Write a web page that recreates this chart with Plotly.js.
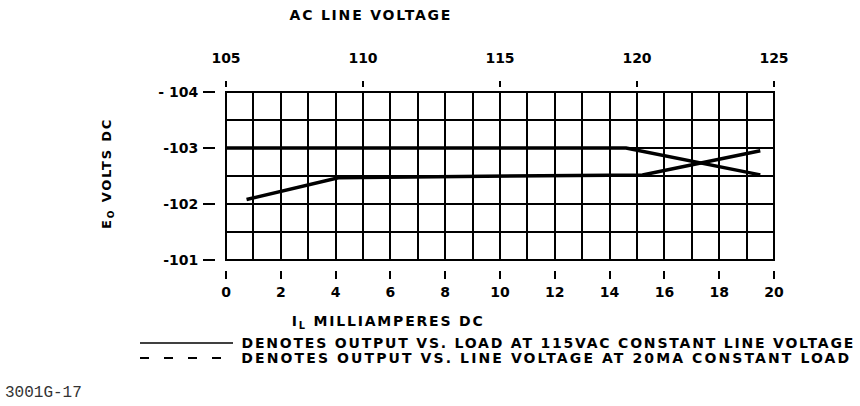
<!DOCTYPE html>
<html>
<head>
<meta charset="utf-8">
<script src="https://cdn.plot.ly/plotly-3.0.1.min.js"></script>
<style>
html,body{margin:0;padding:0;background:#fff;}
#chart{width:860px;height:406px;}
</style>
</head>
<body>
<div id="chart"></div>
<script>
// ---- data ----
// Output vs load at 115 VAC constant line voltage (bottom axis, mA)
const loadMA = [0, 14.6, 19.5];
const loadOut = [-103.0, -103.0, -102.52];
// Output vs line voltage at 20 mA constant load (top axis, VAC)
const lineVolt = [105.75, 109.1, 120.2, 124.5];
const lineOut = [-102.08, -102.47, -102.52, -102.95];

const mATicks = [0, 2, 4, 6, 8, 10, 12, 14, 16, 18, 20];
const voltTicks = [105, 110, 115, 120, 125];
const outTicks = [-104, -103, -102, -101];
const outTickText = ["- 104", "-103", "-102", "-101"];

const titleTop = "AC LINE VOLTAGE";
const titleX = "I<sub>L</sub> MILLIAMPERES DC";
const titleY = "E<sub>O</sub> VOLTS DC";
const legendText = [
  "DENOTES OUTPUT VS. LOAD AT 115VAC CONSTANT LINE VOLTAGE",
  "DENOTES OUTPUT VS. LINE VOLTAGE AT 20MA CONSTANT LOAD"
];
const figId = "3001G-17";

// ---- layout helpers (pixel -> paper) ----
const W = 860, H = 406;
const px = v => v / W;
const py = v => 1 - v / H;

const tickFont = {family: "DejaVu Sans", size: 14, color: "#000", weight: "bold"};
const letterFont = {family: "DejaVu Sans", size: 14, color: "#000", weight: "bold"};
const curve = {color: "#000", width: 3.5};

const traces = [
  // visible curves on the grid axes
  {x: loadMA, y: loadOut, xaxis: "x", yaxis: "y", mode: "lines",
   line: curve, showlegend: false, hoverinfo: "skip"},
  {x: lineVolt, y: lineOut, xaxis: "x2", yaxis: "y", mode: "lines",
   line: curve, showlegend: false, hoverinfo: "skip"},
  // same load curve bound to the offset labelled axes (transparent, so it adds no ink)
  {x: loadMA, y: loadOut, xaxis: "x3", yaxis: "y2", mode: "lines", opacity: 0,
   line: curve, showlegend: false, hoverinfo: "skip"}
];

const layout = {
  width: W, height: H,
  margin: {l: 0, r: 0, t: 0, b: 0, pad: 0},
  paper_bgcolor: "#fff", plot_bgcolor: "#fff",
  showlegend: false,
  // grid axes
  xaxis: {
    domain: [px(226), px(774)], range: [0, 20], anchor: "y",
    dtick: 2, showticklabels: false, ticks: "",
    showline: false, zeroline: false,
    showgrid: true, gridcolor: "#000", gridwidth: 2,
    minor: {dtick: 1, showgrid: true, gridcolor: "#000", gridwidth: 2, ticks: ""},
    automargin: false
  },
  yaxis: {
    domain: [py(260), py(92)], range: [-101, -104], anchor: "x",
    dtick: 1, showticklabels: false, ticks: "",
    showline: false, zeroline: false,
    showgrid: true, gridcolor: "#000", gridwidth: 2,
    minor: {dtick: 0.5, showgrid: true, gridcolor: "#000", gridwidth: 2, ticks: ""},
    automargin: false
  },
  // top axis: AC line voltage
  xaxis2: {
    overlaying: "x", side: "top", range: [105, 125],
    anchor: "free", position: py(87),
    tickvals: voltTicks, ticktext: voltTicks.map(String),
    ticks: "outside", ticklen: 6, tickwidth: 2, tickcolor: "#000",
    ticklabelstandoff: 12,
    showline: false, zeroline: false, showgrid: false,
    automargin: false, tickfont: tickFont
  },
  // bottom labelled axis: load current
  xaxis3: {
    overlaying: "x", side: "bottom", range: [0, 20],
    anchor: "free", position: py(270),
    tickvals: mATicks, ticktext: mATicks.map(String),
    ticks: "outside", ticklen: 8, tickwidth: 2, tickcolor: "#000",
    ticklabelstandoff: 1,
    showline: false, zeroline: false, showgrid: false,
    automargin: false, tickfont: tickFont
  },
  // left labelled axis: output volts
  yaxis2: {
    overlaying: "y", side: "left", range: [-101, -104],
    anchor: "free", position: px(215),
    tickvals: outTicks, ticktext: outTickText,
    ticks: "outside", ticklen: 12, tickwidth: 2, tickcolor: "#000",
    ticklabelstandoff: 2,
    showline: false, zeroline: false, showgrid: false,
    automargin: false, tickfont: tickFont
  },
  annotations: [
    {text: titleTop, xref: "paper", yref: "paper", x: px(371), y: py(15),
     xanchor: "center", yanchor: "middle", showarrow: false, font: letterFont},
    {text: titleX, xref: "paper", yref: "paper", x: px(388), y: py(322),
     xanchor: "center", yanchor: "middle", showarrow: false, font: letterFont},
    {text: titleY, xref: "paper", yref: "paper", x: px(107), y: py(174), textangle: -90,
     xanchor: "center", yanchor: "middle", showarrow: false, font: {family: "DejaVu Sans", size: 13, color: "#000", weight: "bold"}},
    {text: legendText[0], xref: "paper", yref: "paper", x: px(548), y: py(343),
     xanchor: "center", yanchor: "middle", showarrow: false, font: letterFont},
    {text: legendText[1], xref: "paper", yref: "paper", x: px(546), y: py(358),
     xanchor: "center", yanchor: "middle", showarrow: false, font: letterFont},
    {text: figId, xref: "paper", yref: "paper", x: px(3), y: py(393),
     xanchor: "left", yanchor: "middle", showarrow: false,
     font: {family: "Liberation Mono", size: 16, color: "#333"}}
  ],
  shapes: [
    // plot frame
    {type: "rect", xref: "x domain", yref: "y domain", x0: 0, x1: 1, y0: 0, y1: 1,
     line: {color: "#000", width: 2}, layer: "above"},
    // legend line samples
    {type: "line", xref: "paper", yref: "paper", x0: px(140), x1: px(233), y0: py(343), y1: py(343),
     line: {color: "#000", width: 1.5}},
    {type: "line", xref: "paper", yref: "paper", x0: px(140), x1: px(233), y0: py(358), y1: py(358),
     line: {color: "#000", width: 1.8, dash: "9px,15px"}}
  ]
};

Plotly.newPlot("chart", traces, layout, {staticPlot: true, displayModeBar: false}).then(() => {
  document.querySelectorAll(".annotation-text").forEach(t => {
    const s = t.textContent;
    if (s === figId) return;
    t.style.letterSpacing = (s === legendText[1]) ? "2.1px" : "1.8px";
  });
});
</script>
</body>
</html>
